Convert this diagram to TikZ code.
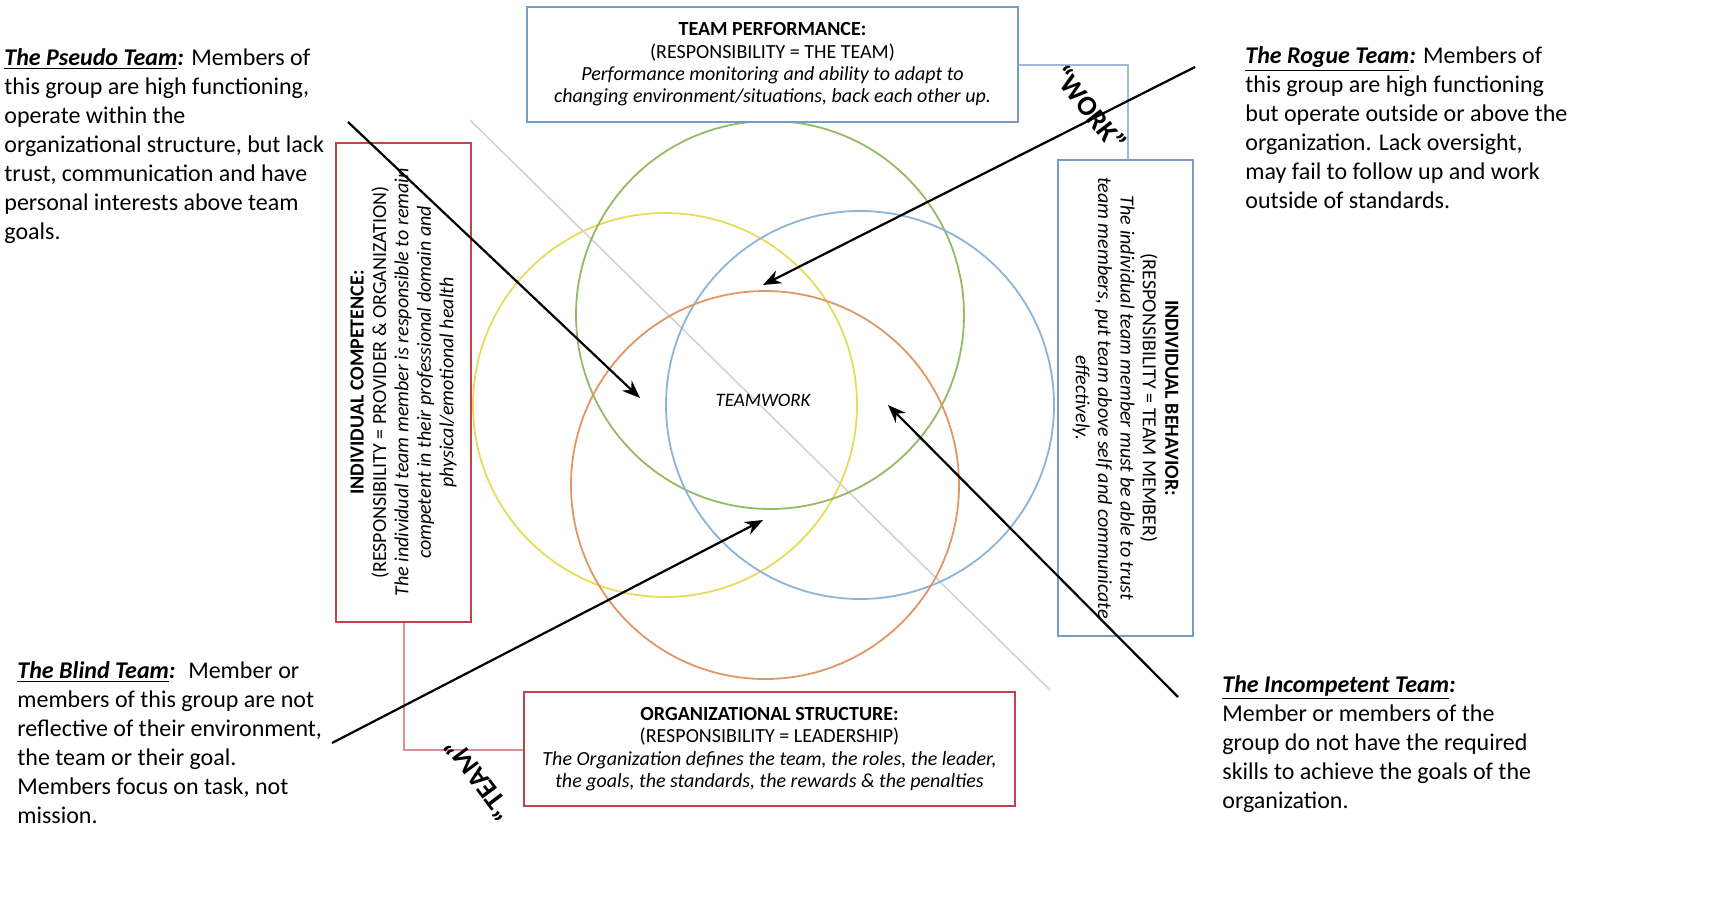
\documentclass[tikz,border=0pt]{standalone}
\usepackage{fontspec}
\setmainfont{Carlito}
\usetikzlibrary{arrows.meta}
\definecolor{bblue}{RGB}{120,155,200}
\definecolor{bred}{RGB}{190,70,75}
\definecolor{cyel}{RGB}{230,220,90}
\definecolor{cgrn}{RGB}{150,185,100}
\definecolor{cblu}{RGB}{140,180,215}
\definecolor{cora}{RGB}{225,150,100}
\begin{document}
\begin{tikzpicture}[x=0.5pt,y=-0.5pt,
 circ/.style={line width=0.9pt},
 box/.style={draw,line width=1pt,fill=white,inner sep=0pt},
 arr/.style={line width=1.1pt,-{Stealth[length=9pt,width=7pt]}},
 conn/.style={line width=0.8pt},
 side/.style={font=\fontsize{12}{14.5}\selectfont,align=left,anchor=north west,inner sep=0pt},
 btxt/.style={font=\fontsize{10}{11.2}\selectfont,align=center,inner sep=0pt}]
\useasboundingbox (0,0) rectangle (1713,912);
% diagonal
\draw[gray!35,line width=0.8pt] (470,120) coordinate (d1) -- (1050,690) coordinate (d2);
% connectors
\draw[conn,bblue!70] (1018,65) -| (1128,160);
\draw[conn,bred!60] (404,622) |- (524,750);
% circles
\draw[circ,cyel] (665,405) circle[radius=96pt];
\draw[circ,cgrn] (770,315) circle[radius=97pt];
\draw[circ,cblu] (860,405) circle[radius=97pt];
\draw[circ,cora] (765,485) circle[radius=97pt];
\node[font=\fontsize{9.5}{11}\selectfont\itshape] (tw) at (763,400) {TEAMWORK};
% boxes
\node[box,draw=bblue,minimum width=245.5pt,minimum height=57.5pt] (top) at (772.5,64.5) {};
\node[btxt] at (top.center) {\textbf{TEAM PERFORMANCE:}\\(RESPONSIBILITY = THE TEAM)\\\textit{Performance monitoring and ability to adapt to}\\\textit{changing environment/situations, back each other up.}};
\node[box,draw=bred,minimum width=245.5pt,minimum height=57pt] (bot) at (769.5,749) {};
\node[btxt] at (bot.center) {\textbf{ORGANIZATIONAL STRUCTURE:}\\(RESPONSIBILITY = LEADERSHIP)\\\textit{The Organization defines the team, the roles, the leader,}\\\textit{the goals, the standards, the rewards \& the penalties}};
\node[box,draw=bred,minimum width=67.5pt,minimum height=239.5pt] (lb) at (403.5,382.5) {};
\node[btxt,rotate=90] at (lb.center) {\textbf{INDIVIDUAL COMPETENCE:}\\(RESPONSIBILITY = PROVIDER \& ORGANIZATION)\\\textit{The individual team member is responsible to remain}\\\textit{competent in their professional domain and}\\\textit{physical/emotional health}};
\node[box,draw=bblue,minimum width=67.5pt,minimum height=238pt] (rb) at (1125.5,398) {};
\node[btxt,rotate=-90] at (rb.center) {\textbf{INDIVIDUAL BEHAVIOR:}\\(RESPONSIBILITY = TEAM MEMBER)\\\textit{The individual team member must be able to trust}\\\textit{team members, put team above self and communicate}\\\textit{effectively.}};
% WORK / TEAM
\node[font=\fontsize{14}{16}\selectfont\bfseries,rotate=-52] (work) at (1090,108) {``WORK''};
\node[font=\fontsize{14}{16}\selectfont\bfseries,rotate=127] (team) at (478,780) {``TEAM''};
% side texts
\node[side] (ps) at (4,48) {\textbf{\textit{\underline{The Pseudo Team}:}}  Members of\\this group are high functioning,\\operate within the\\organizational structure, but lack\\trust, communication and have\\personal interests above team\\goals.};
\node[side] (rg) at (1245,46) {\textbf{\textit{\underline{The Rogue Team}:}}  Members of\\this group are high functioning\\but operate outside or above the\\organization.  Lack oversight,\\may fail to follow up and work\\outside of standards.};
\node[side] (bl) at (17,661) {\textbf{\textit{\underline{The Blind Team}:\ }} Member or\\members of this group are not\\reflective of their environment,\\the team or their goal.\\Members focus on task, not\\mission.};
\node[side] (ic) at (1222,675) {\textbf{\textit{\underline{The Incompetent Team}:}}\\Member or members of the\\group do not have the required\\skills to achieve the goals of the\\organization.};
% arrows
\coordinate (a1) at (348,122); \coordinate (a1e) at (640,398);
\coordinate (a2) at (1195,67); \coordinate (a2e) at (763,285);
\coordinate (a3) at (332,743); \coordinate (a3e) at (763,520);
\coordinate (a4) at (1178,697); \coordinate (a4e) at (888,405);
\draw[arr] (a1) -- (a1e);
\draw[arr] (a2) -- (a2e);
\draw[arr] (a3) -- (a3e);
\draw[arr] (a4) -- (a4e);
\end{tikzpicture}
\end{document}
